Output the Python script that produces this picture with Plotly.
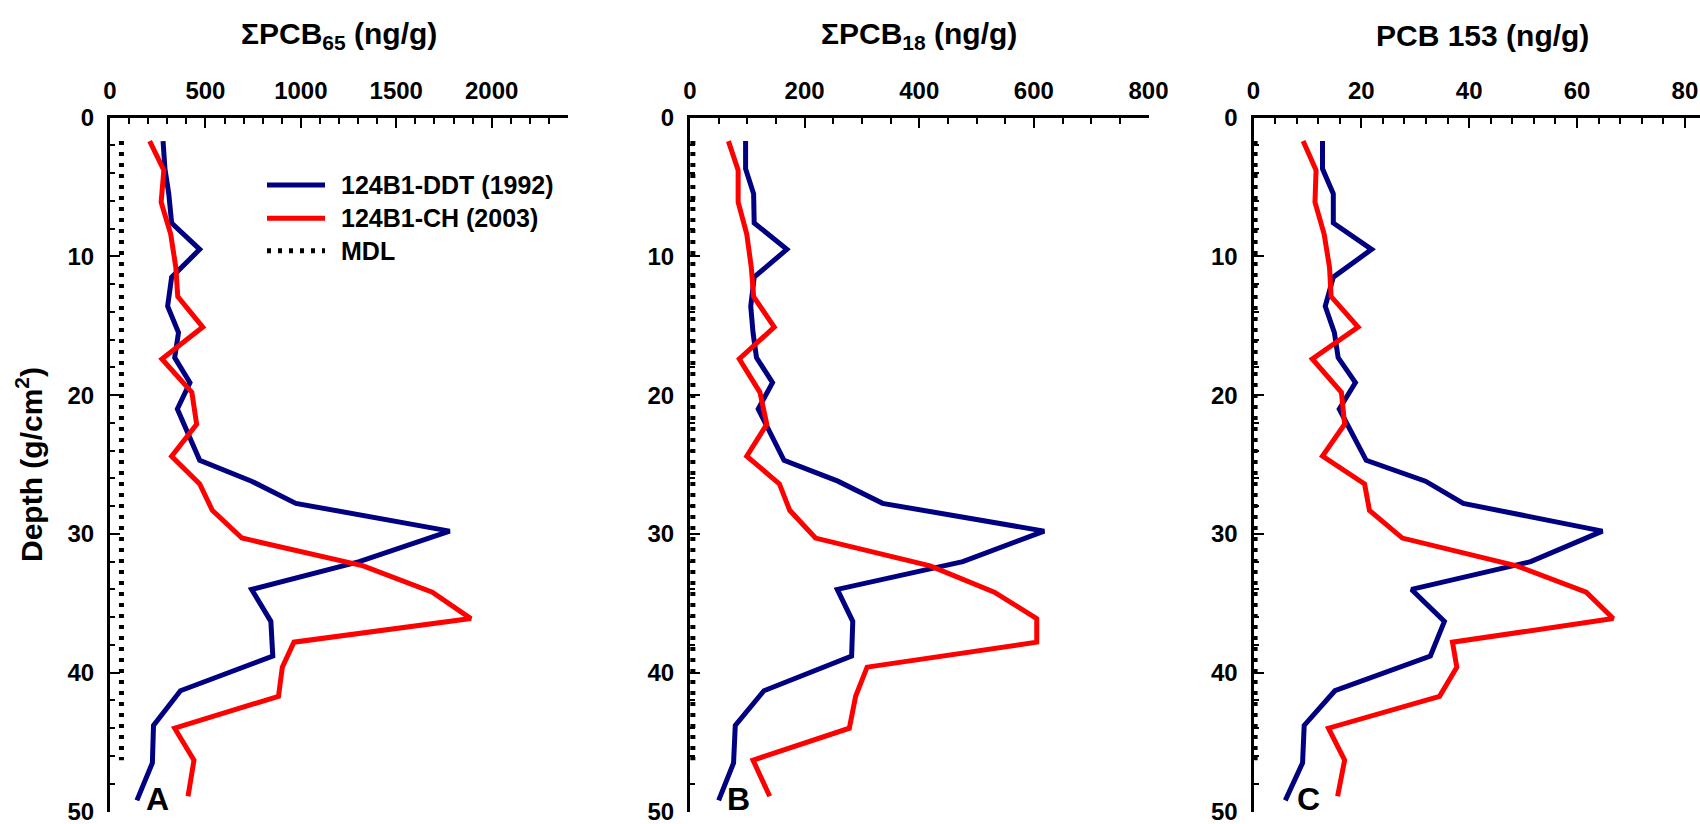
import plotly.graph_objects as go

# ---------------- data ----------------
depth_ddt = [1.7, 3.7, 5.5, 7.6, 9.5, 11.5, 13.6, 15.5, 17.3, 19.1, 21.0, 24.7,
             26.2, 27.8, 29.8, 32.0, 34.0, 36.3, 38.8, 41.3, 43.8, 46.5, 49.2]
depth_ch = [1.7, 3.8, 6.1, 8.4, 10.8, 12.9, 15.1, 17.4, 19.8, 22.1, 24.4, 26.4,
            28.3, 30.3, 32.3, 34.2, 36.1, 37.8, 39.6, 41.7, 44.0, 46.3, 48.9]

pcb65_ddt = [278, 288, 308, 323, 470, 323, 302, 359, 339, 419, 353, 470,
             742, 974, 1780, 1306, 742, 843, 853, 369, 228, 222, 141]
pcb65_ch = [208, 282, 268, 318, 345, 355, 486, 272, 429, 454, 323, 470,
            536, 691, 1327, 1689, 1891, 964, 903, 883, 339, 440, 409]

pcb18_ddt = [97, 97, 111, 112, 169, 112, 106, 110, 116, 144, 119, 164,
             258, 336, 618, 476, 257, 284, 282, 129, 79, 76, 50]
pcb18_ch = [67, 84, 84, 99, 107, 111, 147, 86, 122, 134, 99, 156,
            174, 219, 419, 531, 605, 605, 309, 289, 278, 110, 139]

pcb153_ddt = [12.8, 12.8, 14.8, 14.8, 21.9, 14.8, 13.3, 15.0, 15.7, 18.9, 15.9, 20.9,
              31.9, 38.9, 64.7, 51.4, 29.3, 35.4, 32.8, 15.1, 9.4, 9.1, 5.9]
pcb153_ch = [9.2, 11.6, 11.4, 13.1, 14.1, 14.4, 19.4, 10.9, 16.3, 16.9, 12.8, 20.6,
             21.5, 27.6, 48.8, 61.7, 66.7, 36.9, 37.7, 34.5, 13.9, 16.9, 15.6]

mdl_depth = [1.7, 46.3]
mdl_values = [60, 5, 0.3]

series_names = ["124B1-DDT (1992)", "124B1-CH (2003)", "MDL"]
panel_titles = ["ΣPCB<sub>65</sub> (ng/g)", "ΣPCB<sub>18</sub> (ng/g)", "PCB 153 (ng/g)"]
panel_letters = ["A", "B", "C"]
y_title = "Depth (g/cm<sup>2</sup>)"

x_ranges = [[0, 2400], [0, 800], [0, 82.8]]
x_dticks = [500, 200, 20]
x_minor = [100, 50, 4]

# ---------------- styling ----------------
W, H = 1700, 824
BLUE = "#000080"
RED = "#FF0000"
FONT = "Liberation Sans"


def px(x):
    return x / W


def py(y):
    return 1 - y / H


x_domains = [[px(110), px(568)], [px(690), px(1148.5)], [px(1253.5), 1.0]]
y_domain = [py(811.5), py(117.5)]
title_x = [339, 919, 1482.5]
letter_x = [157, 738, 1308]

fig = go.Figure()

panels = [
    (pcb65_ddt, pcb65_ch),
    (pcb18_ddt, pcb18_ch),
    (pcb153_ddt, pcb153_ch),
]

for i, (ddt, ch) in enumerate(panels):
    xa = "x" if i == 0 else f"x{i+1}"
    ya = "y" if i == 0 else f"y{i+1}"
    fig.add_trace(go.Scatter(x=[mdl_values[i], mdl_values[i]], y=mdl_depth, mode="lines",
                             line=dict(color="black", width=5, dash="4px,7px"),
                             name=series_names[2], showlegend=False, xaxis=xa, yaxis=ya))
    fig.add_trace(go.Scatter(x=ddt, y=depth_ddt, mode="lines",
                             line=dict(color=BLUE, width=5),
                             name=series_names[0], showlegend=False, xaxis=xa, yaxis=ya))
    fig.add_trace(go.Scatter(x=ch, y=depth_ch, mode="lines",
                             line=dict(color=RED, width=5),
                             name=series_names[1], showlegend=False, xaxis=xa, yaxis=ya))

tickfont = dict(family=FONT, size=24, color="black", weight="bold")

layout = dict(
    width=W, height=H,
    margin=dict(l=0, r=0, t=0, b=0, autoexpand=False),
    paper_bgcolor="white", plot_bgcolor="white",
    showlegend=False,
)

for i in range(3):
    xk = "xaxis" if i == 0 else f"xaxis{i+1}"
    yk = "yaxis" if i == 0 else f"yaxis{i+1}"
    layout[xk] = dict(
        domain=x_domains[i], range=x_ranges[i], side="top",
        anchor="y" if i == 0 else f"y{i+1}",
        dtick=x_dticks[i], tick0=0, automargin=False,
        ticks="inside", ticklen=10, tickwidth=2, tickcolor="black",
        showline=True, linewidth=3, linecolor="black",
        showgrid=False, zeroline=False, tickfont=tickfont,
        ticklabelstandoff=6, ticklabeloverflow="allow",
        minor=dict(dtick=x_minor[i], tick0=0, ticks="inside", ticklen=6,
                   tickwidth=2, tickcolor="black", showgrid=False),
    )
    layout[yk] = dict(
        domain=y_domain, range=[50, 0],
        anchor="x" if i == 0 else f"x{i+1}",
        dtick=10, tick0=0, automargin=False,
        ticks="inside", ticklen=10, tickwidth=2, tickcolor="black",
        showline=True, linewidth=3, linecolor="black",
        showgrid=False, zeroline=False, tickfont=tickfont,
        ticklabelstandoff=8, ticklabeloverflow="allow",
        minor=dict(dtick=2, tick0=0, ticks="inside", ticklen=5,
                   tickwidth=2, tickcolor="black", showgrid=False),
    )

fig.update_layout(**layout)

annotations = []
for i in range(3):
    annotations.append(dict(text=panel_titles[i], x=px(title_x[i]), y=py(36),
                            xref="paper", yref="paper", xanchor="center", yanchor="middle",
                            showarrow=False,
                            font=dict(family=FONT, size=30, color="black", weight="bold")))
    annotations.append(dict(text=panel_letters[i], x=px(letter_x[i]), y=py(799),
                            xref="paper", yref="paper", xanchor="center", yanchor="middle",
                            showarrow=False,
                            font=dict(family=FONT, size=32, color="black", weight="bold")))

annotations.append(dict(text=y_title, x=px(29), y=py(465), xref="paper", yref="paper",
                        xanchor="center", yanchor="middle", textangle=-90, showarrow=False,
                        font=dict(family=FONT, size=30, color="black", weight="bold")))

# manual legend inside panel A
legend_rows = [185, 218.3, 250.7]
legend_styles = [dict(color=BLUE, width=5), dict(color=RED, width=5),
                 dict(color="black", width=5, dash="4px,7px")]
shapes = []
for row, name, st in zip(legend_rows, series_names, legend_styles):
    shapes.append(dict(type="line", xref="paper", yref="paper",
                       x0=px(267), x1=px(325), y0=py(row), y1=py(row), line=st))
    annotations.append(dict(text=name, x=px(339), y=py(row), xref="paper", yref="paper",
                            xanchor="left", yanchor="middle", showarrow=False,
                            font=dict(family=FONT, size=25, color="black", weight="bold")))

fig.update_layout(annotations=annotations, shapes=shapes)

fig.write_html("out.html")
